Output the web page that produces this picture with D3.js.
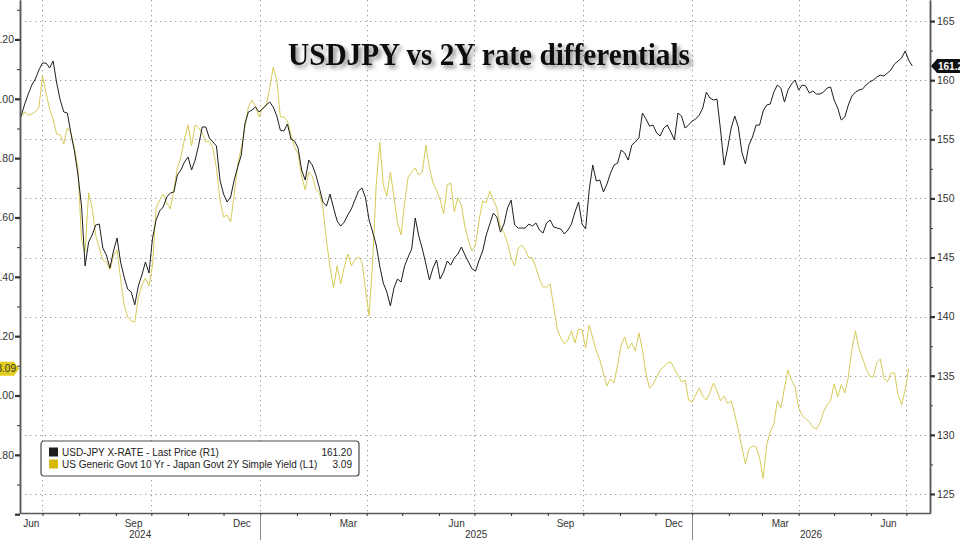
<!DOCTYPE html>
<html>
<head>
<meta charset="utf-8">
<script src="https://cdn.jsdelivr.net/npm/d3@7"></script>
<style>
  html, body { margin: 0; padding: 0; background: #fff; }
  svg { display: block; }
</style>
</head>
<body>
<svg id="chart"></svg>
<script>
const WIDTH = 960;
const HEIGHT = 540;
const PLOT = {left: 20, right: 930, top: 0, bottom: 513};
const FONT = '"Liberation Sans", Arial, sans-serif';

const TITLE = "USDJPY vs 2Y rate differentials";
const X_DOMAIN = ["2024-06-12", "2026-07-21"];
const DATA_START = "2024-06-13";
const STEP_DAYS = 3; // one reading every 3 days

const LEFT_DOMAIN = [2.604, 4.333];
const RIGHT_DOMAIN = [123.39, 166.78];
const LEFT_MAJOR = [2.6, 2.8, 3.0, 3.2, 3.4, 3.6, 3.8, 4.0, 4.2];
const RIGHT_MAJOR = [125, 130, 135, 140, 145, 150, 155, 160, 165];

const SERIES_NAMES = [
    "USD-JPY X-RATE - Last Price (R1)",
    "US Generic Govt 10 Yr - Japan Govt 2Y Simple Yield (L1)"
];
const SERIES_LAST = ["161.20", "3.09"];

// USD-JPY, right axis
const USDJPY = [
    156.97, 157.98, 158.83, 159.59, 160.10, 160.86, 161.45, 161.45, 161.03, 161.62,
    159.76, 158.32, 157.31, 157.22, 155.53, 154.01, 151.98, 149.35, 144.28, 146.31,
    146.90, 147.75, 147.83, 145.80, 145.21, 144.11, 145.55, 146.65, 144.62, 143.35,
    142.33, 142.08, 141.00, 142.59, 143.52, 144.62, 143.69, 146.65, 148.17, 148.93,
    149.27, 150.11, 150.45, 150.54, 151.98, 152.40, 153.08, 153.50, 152.40, 153.24,
    154.51, 156.04, 156.04, 155.11, 154.77, 154.43, 151.55, 150.37, 149.69, 150.11,
    151.55, 152.65, 153.67, 156.29, 157.31, 157.47, 157.73, 157.31, 157.56, 157.90,
    158.15, 157.73, 156.97, 155.78, 155.70, 156.29, 155.02, 154.85, 154.26, 152.40,
    151.55, 153.24, 152.82, 151.98, 150.88, 149.69, 149.35, 150.37, 149.19, 148.09,
    147.66, 148.00, 148.59, 149.10, 149.86, 150.62, 150.88, 150.03, 148.17, 147.15,
    146.06, 144.28, 142.84, 142.08, 140.90, 142.42, 143.18, 142.93, 144.28, 145.04,
    145.72, 148.34, 146.82, 145.72, 144.45, 143.10, 144.11, 144.79, 143.18, 143.78,
    144.70, 144.36, 144.96, 145.29, 145.89, 145.21, 144.62, 144.04, 143.86, 144.79,
    145.55, 146.90, 147.83, 148.76, 148.41, 147.15, 147.83, 149.19, 149.86, 147.75,
    147.49, 147.49, 147.49, 147.83, 147.66, 147.92, 147.32, 147.07, 147.92, 148.17,
    147.58, 147.49, 147.41, 146.99, 147.32, 147.83, 148.85, 149.69, 147.83, 147.41,
    150.71, 152.82, 151.47, 151.55, 150.54, 151.21, 152.14, 152.82, 152.99, 154.09,
    153.84, 153.24, 154.51, 154.77, 155.11, 157.22, 156.71, 156.12, 156.20, 155.53,
    155.28, 155.95, 156.20, 155.61, 154.94, 157.22, 156.97, 155.95, 156.20, 156.54,
    156.71, 157.05, 157.64, 158.99, 158.49, 158.32, 158.40, 155.78, 152.82, 154.26,
    155.95, 156.97, 156.04, 153.92, 152.91, 154.51, 155.19, 156.20, 156.20, 157.39,
    157.90, 157.98, 158.99, 159.59, 159.33, 158.15, 159.16, 159.67, 160.01, 159.16,
    159.59, 159.50, 158.91, 159.08, 158.83, 158.83, 158.99, 159.33, 159.42, 158.32,
    157.64, 156.63, 156.88, 157.90, 158.66, 158.99, 159.16, 159.25, 159.59, 159.84,
    160.01, 160.26, 160.43, 160.35, 160.60, 160.86, 161.36, 161.62, 161.87, 162.46,
    161.70, 161.20
];

// US 10Y - JGB 2Y spread, left axis
const SPREAD = [
    3.939, 3.956, 3.945, 3.949, 3.956, 3.972, 4.077, 4.020, 3.966, 3.932,
    3.881, 3.878, 3.848, 3.902, 3.885, 3.834, 3.767, 3.524, 3.484, 3.683,
    3.632, 3.538, 3.497, 3.457, 3.450, 3.423, 3.470, 3.491, 3.393, 3.305,
    3.265, 3.251, 3.248, 3.329, 3.373, 3.396, 3.369, 3.440, 3.632, 3.659,
    3.679, 3.649, 3.629, 3.693, 3.767, 3.804, 3.865, 3.912, 3.841, 3.912,
    3.902, 3.885, 3.854, 3.858, 3.834, 3.767, 3.659, 3.602, 3.608, 3.585,
    3.676, 3.780, 3.834, 3.902, 3.972, 3.996, 3.976, 3.939, 3.969, 3.976,
    4.036, 4.107, 4.063, 3.939, 3.939, 3.925, 3.878, 3.838, 3.814, 3.740,
    3.693, 3.753, 3.740, 3.696, 3.683, 3.632, 3.521, 3.433, 3.363, 3.437,
    3.376, 3.433, 3.477, 3.437, 3.457, 3.467, 3.450, 3.356, 3.268, 3.450,
    3.710, 3.854, 3.710, 3.672, 3.753, 3.669, 3.582, 3.541, 3.649, 3.736,
    3.753, 3.767, 3.743, 3.753, 3.844, 3.767, 3.716, 3.693, 3.659, 3.612,
    3.710, 3.716, 3.619, 3.666, 3.642, 3.568, 3.521, 3.487, 3.507, 3.592,
    3.656, 3.649, 3.689, 3.659, 3.632, 3.568, 3.548, 3.514, 3.464, 3.437,
    3.497, 3.507, 3.491, 3.464, 3.464, 3.430, 3.393, 3.366, 3.366, 3.376,
    3.298, 3.224, 3.194, 3.174, 3.187, 3.218, 3.177, 3.224, 3.221, 3.160,
    3.238, 3.194, 3.150, 3.120, 3.076, 3.032, 3.056, 3.042, 3.103, 3.170,
    3.197, 3.157, 3.177, 3.150, 3.211, 3.154, 3.073, 3.025, 3.036, 3.062,
    3.086, 3.096, 3.110, 3.113, 3.090, 3.069, 3.046, 3.052, 2.985, 2.978,
    3.002, 3.025, 2.998, 2.985, 3.009, 3.042, 3.015, 2.982, 2.998, 2.972,
    2.982, 2.938, 2.884, 2.827, 2.769, 2.820, 2.830, 2.827, 2.790, 2.720,
    2.833, 2.877, 2.904, 2.982, 2.958, 3.025, 3.086, 3.052, 3.029, 2.958,
    2.934, 2.921, 2.911, 2.894, 2.887, 2.907, 2.945, 2.968, 2.982, 3.039,
    2.995, 3.036, 3.009, 3.062, 3.154, 3.218, 3.157, 3.126, 3.090, 3.066,
    3.062, 3.110, 3.123, 3.059, 3.046, 3.076, 3.076, 3.002, 2.968, 3.019,
    3.090
];

const BLACK = "#1e1e1e";
const YELLOW_LINE = "#d6cc58";
const YELLOW_KEY = "#d6b80c";

document.addEventListener("DOMContentLoaded", function() {
    const parseDay = d3.timeParse("%Y-%m-%d");
    const start = parseDay(DATA_START);
    const toPoints = arr => arr.map((v, i) => ({date: d3.timeDay.offset(start, i * STEP_DAYS), value: v}));
    const usdjpy = toPoints(USDJPY);
    const spread = toPoints(SPREAD);

    const x = d3.scaleTime().domain(X_DOMAIN.map(parseDay)).range([PLOT.left, PLOT.right]);
    const yL = d3.scaleLinear().domain(LEFT_DOMAIN).range([PLOT.bottom, PLOT.top]);
    const yR = d3.scaleLinear().domain(RIGHT_DOMAIN).range([PLOT.bottom, PLOT.top]);
    const [d0, d1] = x.domain();

    const svg = d3.select("#chart")
        .attr("width", WIDTH)
        .attr("height", HEIGHT)
        .attr("viewBox", [0, 0, WIDTH, HEIGHT])
        .style("font-family", FONT);

    svg.append("rect").attr("width", WIDTH).attr("height", HEIGHT).attr("fill", "#fff");

    const defs = svg.append("defs");
    const shadow = defs.append("filter").attr("id", "shadow")
        .attr("x", "-10%").attr("y", "-40%").attr("width", "125%").attr("height", "190%");
    shadow.append("feDropShadow")
        .attr("dx", 3).attr("dy", 3).attr("stdDeviation", 2.2)
        .attr("flood-color", "#000").attr("flood-opacity", 0.45);

    // dotted grid
    const grid = svg.append("g")
        .attr("stroke", "#9c9c9c")
        .attr("stroke-width", 1)
        .attr("stroke-dasharray", "1.3,3.7");
    grid.selectAll("line.h")
        .data(RIGHT_MAJOR)
        .join("line")
        .attr("class", "h")
        .attr("x1", PLOT.left).attr("x2", PLOT.right)
        .attr("y1", d => Math.round(yR(d)) + 0.5).attr("y2", d => Math.round(yR(d)) + 0.5);
    const quarterStarts = d3.timeMonths(d0, d1).filter(d => d.getMonth() % 3 === 0);
    grid.selectAll("line.v")
        .data(quarterStarts)
        .join("line")
        .attr("class", "v")
        .attr("x1", d => Math.round(x(d)) + 0.5).attr("x2", d => Math.round(x(d)) + 0.5)
        .attr("y1", PLOT.top).attr("y2", PLOT.bottom);

    // lines
    const lineL = d3.line().x(d => x(d.date)).y(d => yL(d.value));
    const lineR = d3.line().x(d => x(d.date)).y(d => yR(d.value));
    svg.append("path")
        .datum(spread)
        .attr("fill", "none")
        .attr("stroke", YELLOW_LINE)
        .attr("stroke-width", 1)
        .attr("d", lineL);
    svg.append("path")
        .datum(usdjpy)
        .attr("fill", "none")
        .attr("stroke", BLACK)
        .attr("stroke-width", 1)
        .attr("d", lineR);

    // axes
    const leftMinor = d3.range(26, 44).map(d => d / 10);
    const rightMinor = d3.range(50, 67).map(d => d * 2.5);

    const axL = svg.append("g").attr("transform", `translate(${PLOT.left},0)`);
    axL.call(d3.axisLeft(yL).tickValues(leftMinor).tickSize(3).tickSizeOuter(0).tickFormat(""));
    axL.call(g => g.append("g").call(d3.axisLeft(yL).tickValues(LEFT_MAJOR).tickSize(5).tickSizeOuter(0)
        .tickFormat(d => d < 2.7 ? "" : d.toFixed(2))));

    const axR = svg.append("g").attr("transform", `translate(${PLOT.right},0)`);
    axR.call(d3.axisRight(yR).tickValues(rightMinor).tickSize(3).tickSizeOuter(0).tickFormat(""));
    axR.call(g => g.append("g").call(d3.axisRight(yR).tickValues(RIGHT_MAJOR).tickSize(5).tickSizeOuter(0)
        .tickFormat(d3.format("d"))));

    const monthStarts = d3.timeMonths(d3.timeMonth.floor(d0), d1);
    const axB = svg.append("g").attr("transform", `translate(0,${PLOT.bottom})`);
    axB.call(d3.axisBottom(x).tickValues(monthStarts.filter(d => d >= d0)).tickSize(3).tickSizeOuter(0).tickFormat(""));

    svg.selectAll(".domain").attr("stroke", "#5a5a5a").attr("stroke-width", 1.5);
    svg.selectAll(".tick line").attr("stroke", "#333");
    svg.selectAll(".tick text")
        .attr("fill", "#333")
        .style("font-family", FONT)
        .style("font-size", "10.5px");
    axL.selectAll("g g .tick line").attr("stroke-width", 2.2);
    axR.selectAll("g g .tick line").attr("stroke-width", 2.2);
    axL.selectAll(".tick text").attr("x", -6);
    axR.selectAll(".tick text").attr("x", 7);

    // month labels (centred on visible part of the month)
    const monthFmt = d3.timeFormat("%b");
    const labelMonths = monthStarts.filter(d => d.getMonth() % 3 === 2);
    svg.append("g")
        .selectAll("text")
        .data(labelMonths)
        .join("text")
        .attr("x", d => {
            const a = x(d3.max([d, d0]));
            const b = x(d3.min([d3.timeMonth.offset(d, 1), d1]));
            return (a + b) / 2;
        })
        .attr("y", 527)
        .attr("text-anchor", "middle")
        .attr("fill", "#333")
        .style("font-size", "10px")
        .text(monthFmt);

    // years
    const years = d3.timeYears(d3.timeYear.floor(d0), d1);
    svg.append("g")
        .selectAll("text")
        .data(years)
        .join("text")
        .attr("x", d => {
            const a = x(d3.max([d, d0]));
            const b = x(d3.min([d3.timeYear.offset(d, 1), d1]));
            return (a + b) / 2;
        })
        .attr("y", 538)
        .attr("text-anchor", "middle")
        .attr("fill", "#333")
        .style("font-size", "10px")
        .text(d3.timeFormat("%Y"));
    svg.append("g")
        .selectAll("line")
        .data(years.filter(d => d > d0))
        .join("line")
        .attr("x1", d => Math.round(x(d)) + 0.5).attr("x2", d => Math.round(x(d)) + 0.5)
        .attr("y1", PLOT.bottom + 2).attr("y2", HEIGHT)
        .attr("stroke", "#8a8a8a");

    // last-value tags
    const lastR = usdjpy[usdjpy.length - 1].value;
    const lastL = spread[spread.length - 1].value;
    const ty = yR(lastR);
    svg.append("path")
        .attr("d", `M${PLOT.right + 1},${ty} L${PLOT.right + 7},${ty - 7} H${WIDTH + 5} V${ty + 7} H${PLOT.right + 7} Z`)
        .attr("fill", "#111");
    svg.append("text")
        .attr("x", PLOT.right + 8).attr("y", ty + 3.6)
        .attr("fill", "#fff")
        .style("font-size", "10px")
        .style("font-weight", "bold")
        .text(lastR.toFixed(2));

    const ly = yL(lastL);
    svg.append("path")
        .attr("d", `M-5,${ly - 7} H${PLOT.left - 6} L${PLOT.left - 1},${ly} L${PLOT.left - 6},${ly + 7} H-5 Z`)
        .attr("fill", "#e2cc1c");
    svg.append("text")
        .attr("x", PLOT.left - 4).attr("y", ly + 3.6)
        .attr("text-anchor", "end")
        .attr("fill", "#333")
        .style("font-size", "10px")
        .text(lastL.toFixed(2));

    // legend
    const lg = svg.append("g").attr("transform", "translate(41,441)");
    lg.append("rect")
        .attr("width", 318).attr("height", 35).attr("rx", 3)
        .attr("fill", "#fff").attr("stroke", "#4a4a4a").attr("stroke-width", 1.2);
    const rows = lg.selectAll("g.row")
        .data(SERIES_NAMES.map((name, i) => ({name, last: SERIES_LAST[i], color: [BLACK, YELLOW_KEY][i]})))
        .join("g")
        .attr("class", "row")
        .attr("transform", (d, i) => `translate(0,${11 + i * 12})`);
    rows.append("rect")
        .attr("x", 8).attr("y", -4.5).attr("width", 9).attr("height", 9)
        .attr("fill", d => d.color);
    rows.append("text")
        .attr("x", 21).attr("y", 3.6)
        .attr("fill", "#222")
        .style("font-size", "10px")
        .text(d => d.name);
    rows.append("text")
        .attr("x", 311).attr("y", 3.6)
        .attr("text-anchor", "end")
        .attr("fill", "#222")
        .style("font-size", "10px")
        .text(d => d.last);

    // title
    svg.append("text")
        .attr("x", 489).attr("y", 65)
        .attr("text-anchor", "middle")
        .attr("filter", "url(#shadow)")
        .attr("textLength", 402)
        .attr("lengthAdjust", "spacingAndGlyphs")
        .style("font-family", '"Liberation Serif", "Times New Roman", serif')
        .style("font-weight", "bold")
        .style("font-size", "31px")
        .attr("fill", "#111")
        .text(TITLE);
});
</script>
</body>
</html>
